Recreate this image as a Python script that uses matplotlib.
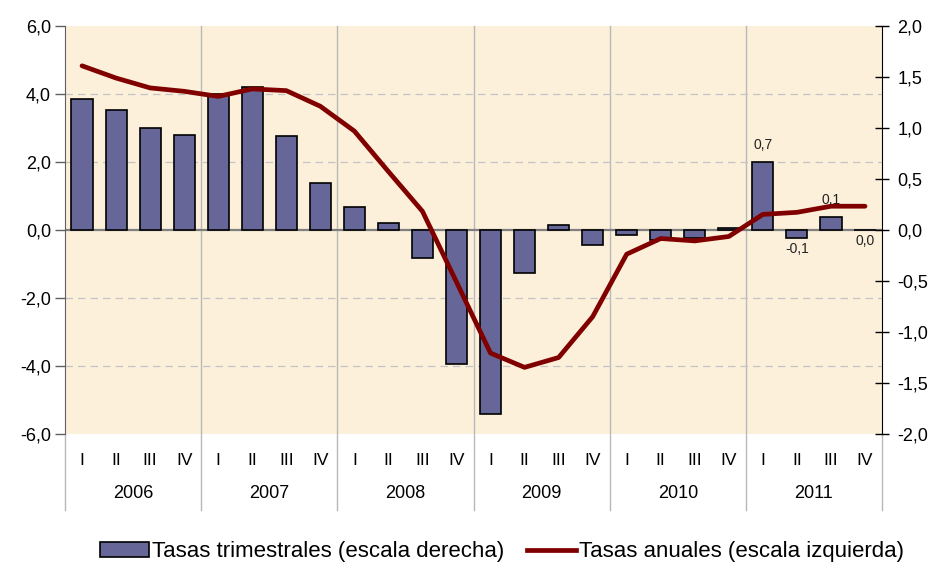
import numpy as np
import matplotlib.pyplot as plt
from matplotlib.patches import Patch
from matplotlib.lines import Line2D

plt.rcParams['font.family'] = ['Liberation Sans', 'DejaVu Sans']

# data
years = ["2006", "2007", "2008", "2009", "2010", "2011"]
quarters = ["I", "II", "III", "IV"]

# quarterly rates (right scale)
trimestrales = [1.28, 1.18, 1.00, 0.93,
                1.33, 1.40, 0.92, 0.46,
                0.23, 0.065, -0.27, -1.31,
                -1.80, -0.42, 0.05, -0.15,
                -0.05, -0.10, -0.08, 0.016,
                0.665, -0.08, 0.13, 0.0]

# annual rates (left scale)
anuales = [4.83, 4.47, 4.18, 4.08,
           3.93, 4.15, 4.10, 3.64,
           2.91, 1.72, 0.55, -1.53,
           -3.62, -4.04, -3.75, -2.55,
           -0.71, -0.25, -0.32, -0.19,
           0.46, 0.52, 0.70, 0.70]

# labels shown on the last year's bars
bar_labels = {20: "0,7", 21: "-0,1", 22: "0,1", 23: "0,0"}

left_ticks = [-6, -4, -2, 0, 2, 4, 6]
right_ticks = [-2.0, -1.5, -1.0, -0.5, 0.0, 0.5, 1.0, 1.5, 2.0]

def fmt(v):
    return f"{v:.1f}".replace(".", ",")

n = len(trimestrales)
x = np.arange(n)

fig = plt.figure(figsize=(9.3, 5.66), dpi=100)
ax = fig.add_axes([0.0699, 0.2332, 0.8785, 0.7208])
ax.set_facecolor("#fcf0da")
ax2 = ax.twinx()

# bars on the right scale
ax.set_ylim(-2, 2)
ax.set_xlim(-0.5, n - 0.5)
ratio = 2 / 6
for g in left_ticks:
    if g not in (0, -6, 6):
        ax.axhline(g * ratio, color="#c4c4c4", lw=0.9, ls=(0, (6, 4)), zorder=1)
ax.axhline(0, color="#808080", lw=1.6, zorder=1)

ax.bar(x, trimestrales, width=0.62, color="#666699", edgecolor="black",
       linewidth=1.2, zorder=3)

for i, lab in bar_labels.items():
    v = trimestrales[i]
    if v > 0:
        ax.annotate(lab, (x[i], v), xytext=(0, 7), textcoords="offset points",
                    ha="center", va="bottom", fontsize=10, color="#222222")
    else:
        ax.annotate(lab, (x[i], min(v, 0)), xytext=(0, -3), textcoords="offset points",
                    ha="center", va="top", fontsize=10, color="#222222")

ax.yaxis.tick_right()
ax.yaxis.set_label_position("right")
ax.set_yticks(right_ticks)
ax.set_yticklabels([fmt(v) for v in right_ticks], fontsize=13)
ax.tick_params(axis="y", which="both", left=False, labelleft=False,
               right=True, labelright=True, direction="inout", length=10,
               width=1, pad=6, color="black")

# quarter labels
ax.set_xticks(x)
ax.set_xticklabels(quarters * len(years), fontsize=12.5)
ax.tick_params(axis="x", length=0, pad=14)

# year labels and separators
trans = ax.get_xaxis_transform()
for k, yr in enumerate(years):
    ax.text(k * 4 + 1.5, -0.145, yr, transform=trans, ha="center", va="center",
            fontsize=13)
for k in range(len(years) + 1):
    xb = k * 4 - 0.5
    ax.add_line(Line2D([xb, xb], [-0.186, 0 if k in (0, len(years)) else 1],
                       transform=trans, color="#b8b8b8", lw=1, clip_on=False,
                       zorder=0.5))

for s in ["top", "bottom", "left", "right"]:
    ax.spines[s].set_visible(False)

# line on the left scale
ax2.set_ylim(-6, 6)
ax2.plot(x, anuales, color="#800000", lw=3.4, solid_joinstyle="round",
         solid_capstyle="round", zorder=4)
ax2.yaxis.tick_left()
ax2.yaxis.set_label_position("left")
ax2.set_yticks(left_ticks)
ax2.set_yticklabels([fmt(v) for v in left_ticks], fontsize=13)
ax2.tick_params(axis="y", which="both", right=False, labelright=False,
                left=True, labelleft=True, direction="out", length=7,
                width=1, pad=3, color="#606060")
for s in ["top", "bottom"]:
    ax2.spines[s].set_visible(False)
ax2.spines["left"].set_color("#606060")
ax2.spines["right"].set_color("black")

handles = [Patch(facecolor="#666699", edgecolor="black", linewidth=1.2),
           Line2D([0], [0], color="#800000", lw=3.4)]
fig.legend(handles, ["Tasas trimestrales (escala derecha)",
                     "Tasas anuales (escala izquierda)"],
           loc="center", bbox_to_anchor=(0.54, 0.025), ncol=2, frameon=False,
           fontsize=16, handlelength=2.2, handleheight=0.6, handletextpad=0.15,
           columnspacing=1.0)

fig.savefig("out.png", dpi=100)
